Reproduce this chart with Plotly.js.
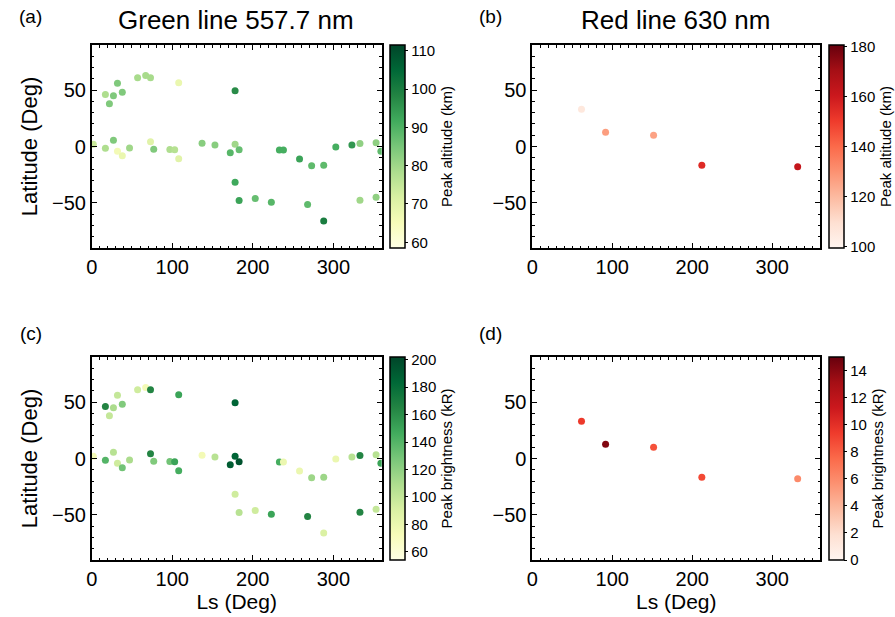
<!DOCTYPE html>
<html>
<head>
<meta charset="utf-8">
<script src="https://cdn.plot.ly/plotly-3.0.1.min.js"></script>
<style>html,body{margin:0;padding:0;background:#fff;}#chart{width:895px;height:617px;}</style>
</head>
<body>
<div id="chart"></div>
<script>
// ---- Green line 557.7 nm observations ----
var greenLs = [2, 17, 17, 22, 27, 27, 32, 32, 38, 38, 47, 57, 67, 73, 73, 77, 97, 103, 108, 108,
  137, 153, 172, 178, 178, 178, 183, 183, 203, 223, 233, 238, 258, 268, 273, 288, 288, 303, 323, 333,
  333, 353, 353, 359];
var greenLat = [2, 46, -1.5, 38, 45, 5.5, 56, -4.3, 48, -8.2, -1.3, 61, 63, 61, 4.2, -2.4, -2.7, -2.9, 56.5, -10.8,
  2.8, 1.3, -5.5, 49.5, 1.9, -31.8, -2.8, -47.8, -46, -49.5, -3.1, -3.1, -11.1, -51.5, -17, -16.7, -66, -0.5, 1.3, 2.7,
  -47.7, 3.3, -45, -4.2];
var greenAlt = [74, 78, 78, 84, 84, 84, 84, 66, 84, 68, 80, 79, 79, 79, 70, 84, 78, 77, 68, 70,
  83, 83, 89, 97, 80, 92, 87, 93, 87, 89, 91, 91, 93, 88, 88, 88, 100, 91, 95, 82,
  80, 82, 82, 88];
var greenBright = [75, 165, 140, 100, 110, 105, 100, 95, 125, 130, 110, 95, 75, 165, 165, 125, 130, 150, 150, 145,
  75, 105, 190, 185, 185, 95, 195, 105, 95, 150, 145, 80, 80, 165, 115, 115, 90, 80, 105, 165,
  165, 105, 100, 150];

// ---- Red line 630 nm observations ----
var redLs = [61.6, 91.7, 151.7, 212, 331.8];
var redLat = [33, 12.7, 10, -16.6, -18];
var redAlt = [106, 127, 126, 155, 162];
var redBright = [9.5, 14.2, 8.5, 8.8, 6];

// ---- tick labels / text ----
var panelTitles = ["Green line 557.7 nm", "Red line 630 nm"];
var panelLabels = ["(a)", "(b)", "(c)", "(d)"];
var cbTitles = ["Peak altitude (km)", "Peak altitude (km)", "Peak brightness (kR)", "Peak brightness (kR)"];

var YlGn = [[0, '#ffffe5'], [0.125, '#f7fcb9'], [0.25, '#d9f0a3'], [0.375, '#addd8e'], [0.5, '#78c679'],
  [0.625, '#41ab5d'], [0.75, '#238443'], [0.875, '#006837'], [1, '#004529']];
var Reds = [[0, '#fff5f0'], [0.125, '#fee0d2'], [0.25, '#fcbba1'], [0.375, '#fc9272'], [0.5, '#fb6a4a'],
  [0.625, '#ef3b2c'], [0.75, '#cb181d'], [0.875, '#a50f15'], [1, '#67000d']];

var FONT = 'Liberation Sans, Arial, sans-serif';
var W = 895, H = 617;
var xdomL = [92 / W, 383 / W], xdomR = [534 / W, 823 / W];
var ydomT = [1 - 248 / H, 1 - 45 / H], ydomB = [1 - 560 / H, 1 - 357 / H];

function cb(x, ydom, title, dtick) {
  return {
    x: x / W, xanchor: 'left', xpad: 0,
    y: (ydom[0] + ydom[1]) / 2, yanchor: 'middle', ypad: 0,
    len: ydom[1] - ydom[0], lenmode: 'fraction',
    thickness: 15, outlinewidth: 1.5, outlinecolor: '#000',
    ticks: 'outside', ticklen: 3, tickwidth: 1, tickcolor: '#000',
    dtick: dtick, tick0: 0,
    tickfont: {family: FONT, size: 15, color: '#000'},
    title: {text: title, side: 'right', font: {family: FONT, size: 15, color: '#000'}}
  };
}

function trace(xs, ys, vals, cs, cmin, cmax, xa, ya, cbar) {
  return {
    type: 'scatter', mode: 'markers', x: xs, y: ys, xaxis: xa, yaxis: ya,
    marker: {size: 7, color: vals, colorscale: cs, cmin: cmin, cmax: cmax, line: {width: 0},
      showscale: true, colorbar: cbar},
    hoverinfo: 'x+y', showlegend: false
  };
}

var data = [
  trace(greenLs, greenLat, greenAlt, YlGn, 58.5, 111.5, 'x', 'y', cb(391, ydomT, cbTitles[0], 10)),
  trace(redLs, redLat, redAlt, Reds, 99.5, 180.5, 'x2', 'y2', cb(832, ydomT, cbTitles[1], 20)),
  trace(greenLs, greenLat, greenBright, YlGn, 54, 202, 'x3', 'y3', cb(391, ydomB, cbTitles[2], 20)),
  trace(redLs, redLat, redBright, Reds, 0, 15, 'x4', 'y4', cb(832, ydomB, cbTitles[3], 2))
];

function xax(dom, anchor, title) {
  var a = {
    domain: dom, anchor: anchor, range: [0, 360], tick0: 0, dtick: 100,
    ticks: 'inside', ticklen: 5, tickwidth: 1.2, tickcolor: '#000',
    minor: {dtick: 10, tick0: 0, ticks: 'inside', ticklen: 2.5, tickwidth: 1, tickcolor: '#000'},
    showline: true, linewidth: 1.8, linecolor: '#000', mirror: 'ticks',
    showgrid: false, zeroline: false,
    tickfont: {family: FONT, size: 20, color: '#000'}
  };
  if (title) a.title = {text: title, font: {family: FONT, size: 21, color: '#000'}, standoff: 4};
  return a;
}
function yax(dom, anchor, title) {
  var a = {
    domain: dom, anchor: anchor, range: [-90, 90], tick0: 0, dtick: 50,
    ticks: 'inside', ticklen: 5, tickwidth: 1.2, tickcolor: '#000',
    minor: {dtick: 10, tick0: 0, ticks: 'inside', ticklen: 2.5, tickwidth: 1, tickcolor: '#000'},
    showline: true, linewidth: 1.8, linecolor: '#000', mirror: 'ticks',
    showgrid: false, zeroline: false,
    tickfont: {family: FONT, size: 20, color: '#000'}
  };
  if (title) a.title = {text: title, font: {family: FONT, size: 22, color: '#000'}, standoff: 8};
  return a;
}

var ann = [];
ann.push({text: panelTitles[0], x: 237 / W, y: 1 - 20 / H, xref: 'paper', yref: 'paper', showarrow: false,
  xanchor: 'center', yanchor: 'middle', font: {family: FONT, size: 26, color: '#000'}});
ann.push({text: panelTitles[1], x: 678 / W, y: 1 - 20 / H, xref: 'paper', yref: 'paper', showarrow: false,
  xanchor: 'center', yanchor: 'middle', font: {family: FONT, size: 26, color: '#000'}});
var labPos = [[31, 17], [492, 17], [31, 333], [492, 333]];
for (var i = 0; i < 4; i++) {
  ann.push({text: panelLabels[i], x: labPos[i][0] / W, y: 1 - labPos[i][1] / H, xref: 'paper', yref: 'paper',
    showarrow: false, xanchor: 'center', yanchor: 'middle', font: {family: FONT, size: 19, color: '#000'}});
}

var layout = {
  width: W, height: H, margin: {l: 0, r: 0, t: 0, b: 0},
  paper_bgcolor: '#fff', plot_bgcolor: '#fff',
  font: {family: FONT, color: '#000'},
  xaxis: xax(xdomL, 'y'), yaxis: yax(ydomT, 'x', 'Latitude (Deg)'),
  xaxis2: xax(xdomR, 'y2'), yaxis2: yax(ydomT, 'x2'),
  xaxis3: xax(xdomL, 'y3', 'Ls (Deg)'), yaxis3: yax(ydomB, 'x3', 'Latitude (Deg)'),
  xaxis4: xax(xdomR, 'y4', 'Ls (Deg)'), yaxis4: yax(ydomB, 'x4'),
  annotations: ann, showlegend: false
};

Plotly.newPlot('chart', data, layout, {displayModeBar: false, staticPlot: true});
</script>
</body>
</html>
